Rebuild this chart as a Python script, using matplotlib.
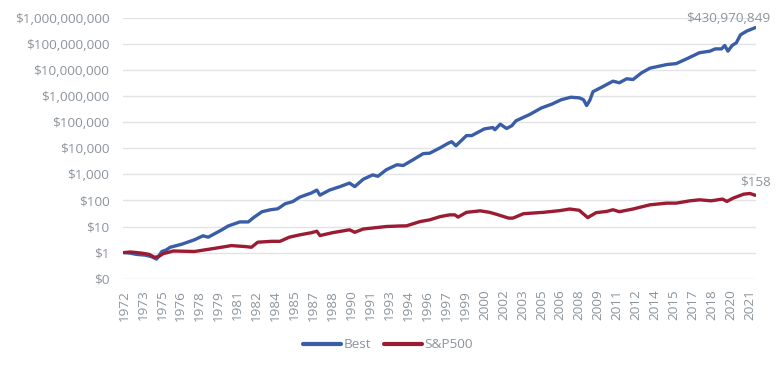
import matplotlib.pyplot as plt
import matplotlib.ticker as mticker
import numpy as np

plt.rcParams['font.family'] = ['Open Sans', 'DejaVu Sans']

# month index counted from Jan 1972
best_month = [0, 6, 12, 20, 26, 31, 36, 40, 44, 55, 67, 75, 80, 93, 99, 110, 118, 123,
              131, 139, 146, 153, 160, 167, 178, 183, 186, 195, 205, 214, 219, 227, 236,
              241, 249, 259, 265, 275, 284, 290, 300, 308, 311, 315, 325, 330, 342, 350,
              352, 357, 363, 368, 372, 385, 396, 406, 415, 424, 432, 436, 439, 442, 445,
              453, 464, 470, 477, 483, 491, 499, 515, 524, 534, 546, 556, 561, 567, 570,
              573, 577, 581, 585, 591, 599]
best_value = [1.0, 0.95, 0.85, 0.8, 0.7, 0.56, 1.1, 1.25, 1.6, 2.1, 3.1, 4.4, 3.9, 7.5,
              10.5, 15, 15, 22, 37, 44, 48, 75, 90, 135, 195, 250, 160, 250, 340, 465,
              340, 650, 960, 850, 1520, 2350, 2200, 3800, 6300, 6500, 10500, 16000,
              18000, 12600, 31000, 31000, 56000, 63000, 52000, 85000, 58000, 74000,
              115000, 200000, 355000, 500000, 740000, 920000, 870000, 740000, 440000,
              700000, 1.5e6, 2.2e6, 3.8e6, 3.3e6, 4.7e6, 4.4e6, 7.9e6, 1.2e7, 1.65e7,
              1.8e7, 2.75e7, 4.7e7, 5.4e7, 6.6e7, 6.6e7, 8.9e7, 5.4e7, 8.9e7, 1.13e8,
              2.3e8, 3.2e8, 430970849]

sp_month = [0, 6, 12, 17, 24, 29, 33, 37, 47, 67, 86, 102, 115, 121, 127, 140, 148, 157,
            167, 178, 183, 186, 198, 214, 219, 227, 249, 262, 268, 281, 290, 300, 309,
            314, 317, 325, 338, 347, 354, 365, 369, 379, 398, 414, 423, 432, 440, 448,
            458, 464, 470, 483, 499, 515, 524, 537, 546, 557, 568, 572, 578, 588, 594, 599]
sp_value = [1.0, 1.05, 1.0, 0.95, 0.85, 0.66, 0.7, 0.9, 1.15, 1.1, 1.45, 1.85, 1.7, 1.6,
            2.5, 2.7, 2.7, 3.9, 4.8, 5.8, 6.6, 4.5, 5.8, 7.5, 6.0, 8.0, 10, 10.5, 10.6,
            15.5, 18, 24, 28, 28, 23, 35, 40, 35, 29, 21, 21, 31, 35, 41, 47, 42, 22, 34,
            38, 44, 37, 47, 68, 79, 79, 97, 106, 97, 113, 92, 123, 175, 185, 158]

tick_pos = np.arange(0, 600, 18)
tick_labels = [str(1972 + p // 12) for p in tick_pos]

blue = '#3A5DA8'
red = '#9B1B32'
gray = '#8C949B'

fig = plt.figure(figsize=(7.76, 3.70), dpi=100)
ax = fig.add_axes([0.159, 0.247, 0.815, 0.704])

ax.plot(best_month, best_value, color=blue, linewidth=2.4, label='Best', solid_capstyle='round')
ax.plot(sp_month, sp_value, color=red, linewidth=2.4, label='S&P500', solid_capstyle='round')

ax.set_yscale('log')
ax.set_ylim(0.1, 1e9)
ax.set_xlim(-0.5, 599.5)
ax.yaxis.set_major_locator(mticker.LogLocator(base=10, numticks=20))
ax.yaxis.set_minor_locator(mticker.NullLocator())
ax.yaxis.set_major_formatter(mticker.FuncFormatter(lambda v, p: '${:,.0f}'.format(v)))
ax.set_xticks(tick_pos)
ax.set_xticklabels(tick_labels, rotation=90)

ax.grid(axis='y', color='#E1E4E7', linewidth=1)
ax.set_axisbelow(True)
for s in ax.spines.values():
    s.set_visible(False)
ax.tick_params(axis='both', length=0, colors=gray, labelsize=9.7)
ax.tick_params(axis='y', pad=10)
ax.tick_params(axis='x', pad=8)

ax.annotate('${:,.0f}'.format(best_value[-1]), xy=(best_month[-1], best_value[-1]),
            xytext=(11, 2), textcoords='offset points', ha='right', va='bottom',
            color=gray, fontsize=9.7, annotation_clip=False)
ax.annotate('${:,.0f}'.format(sp_value[-1]), xy=(sp_month[-1], sp_value[-1]),
            xytext=(11, 5), textcoords='offset points', ha='right', va='bottom',
            color=gray, fontsize=9.7, annotation_clip=False)

leg = fig.legend(loc='center', bbox_to_anchor=(0.5, 0.068), ncol=2, frameon=False,
                 fontsize=9.7, handlelength=2.8, handletextpad=0.15, columnspacing=1.0)
for t in leg.get_texts():
    t.set_color(gray)
for h in leg.legend_handles:
    h.set_linewidth(3)

fig.savefig('out.png', dpi=100)
